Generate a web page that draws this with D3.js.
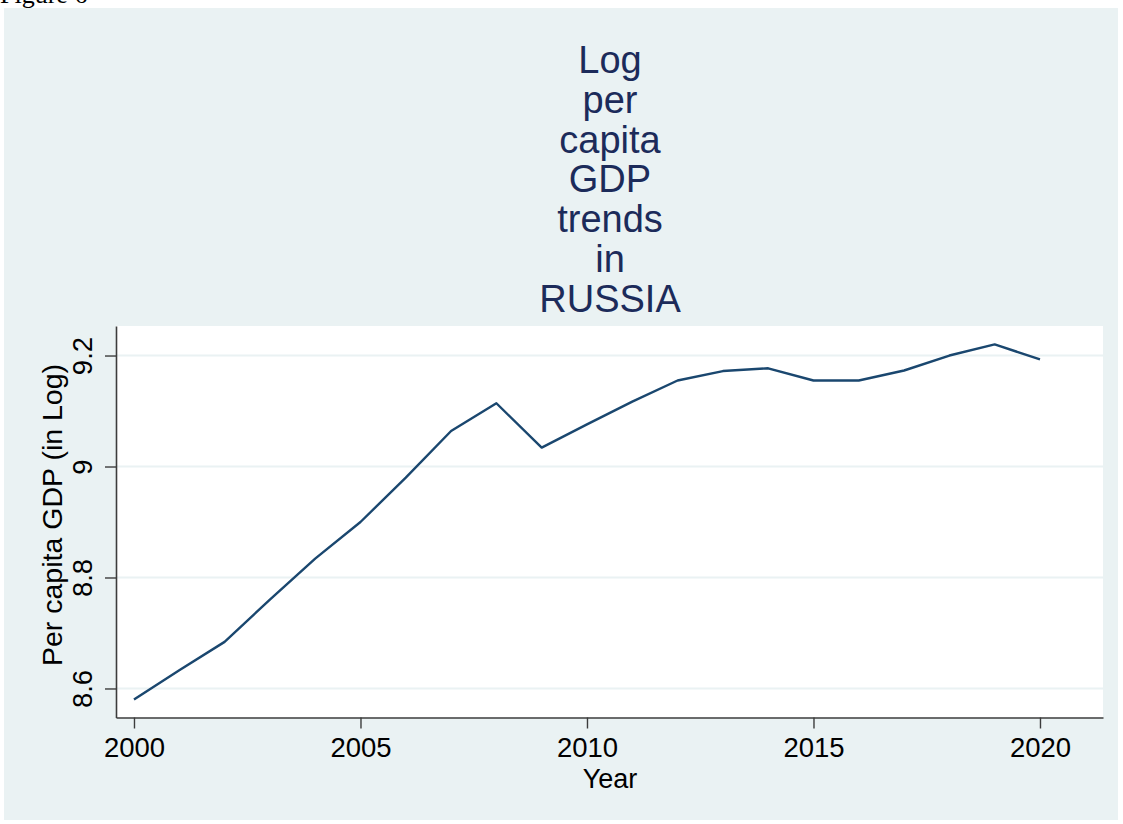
<!DOCTYPE html>
<html lang="en">
<head>
    <meta charset="UTF-8">
    <title>Log per capita GDP trends in RUSSIA</title>
    <style>
        body{
            margin: 0;
            background: #ffffff;
            font-family: "Liberation Sans", Arial, Helvetica, sans-serif;
        }
        svg{ display: block; }
    </style>
    <script src="https://d3js.org/d3.v7.min.js"></script>
</head>
<body>
    <script>
        // values
        var years = [2000, 2001, 2002, 2003, 2004, 2005, 2006, 2007, 2008, 2009, 2010,
                     2011, 2012, 2013, 2014, 2015, 2016, 2017, 2018, 2019, 2020];
        var logGdp = [8.580, 8.633, 8.684, 8.760, 8.834, 8.900, 8.980, 9.064, 9.114, 9.034, 9.076,
                      9.117, 9.155, 9.172, 9.177, 9.155, 9.155, 9.173, 9.200, 9.220, 9.193];
        var xTicks = [2000, 2005, 2010, 2015, 2020];
        var yTicks = [8.6, 8.8, 9, 9.2];
        var titleLines = ["Log", "per", "capita", "GDP", "trends", "in", "RUSSIA"];

        var width = 1123,
            height = 824,
            plot = {left: 116, right: 1103, top: 326, bottom: 717.5};

        var svg = d3.select("body")
            .append("svg")
            .attr("width", width)
            .attr("height", height);

        // cropped caption from the document above the figure
        svg.append("text")
            .attr("x", 0)
            .attr("y", 3)
            .style("font-family", "'Liberation Serif', 'Times New Roman', serif")
            .style("font-size", "26px")
            .attr("fill", "#000")
            .text("Figure 6");

        // graph region
        svg.append("rect")
            .attr("x", 4).attr("y", 8)
            .attr("width", 1114).attr("height", 812)
            .attr("fill", "#eaf2f3");

        svg.append("rect")
            .attr("x", plot.left).attr("y", plot.top)
            .attr("width", plot.right - plot.left).attr("height", plot.bottom - plot.top)
            .attr("fill", "#ffffff");

        var x = d3.scaleLinear().domain([1999.603, 2021.391]).range([plot.left, plot.right]);
        var y = d3.scaleLinear().domain([8.5477, 9.2532]).range([plot.bottom, plot.top]);

        // gridlines
        svg.selectAll(".grid")
            .data(yTicks)
            .enter()
            .append("line")
            .attr("x1", plot.left).attr("x2", plot.right)
            .attr("y1", d => y(d)).attr("y2", d => y(d))
            .attr("stroke", "#eaf2f3")
            .attr("stroke-width", 2);

        // title
        svg.append("text")
            .attr("text-anchor", "middle")
            .attr("fill", "#1c2b5a")
            .style("font-size", "38px")
            .selectAll("tspan")
            .data(titleLines)
            .enter()
            .append("tspan")
            .attr("x", 610)
            .attr("y", (d, i) => 73.3 + i * 39.7)
            .text(d => d);

        // x axis
        var xAxis = svg.append("g")
            .attr("transform", "translate(0," + plot.bottom + ")")
            .call(d3.axisBottom(x).tickValues(xTicks).tickSize(11).tickSizeOuter(0).tickFormat(d3.format("d")));
        xAxis.select(".domain").attr("stroke", "#3c3c3c").attr("stroke-width", 1.6);
        xAxis.selectAll(".tick line").attr("stroke", "#3c3c3c").attr("stroke-width", 1.4);
        xAxis.selectAll(".tick text")
            .attr("y", 39.5)
            .attr("dy", 0)
            .attr("fill", "#000")
            .style("font-family", "'Liberation Sans', Arial, Helvetica, sans-serif")
            .style("font-size", "27.5px");

        // y axis
        var yAxis = svg.append("g")
            .attr("transform", "translate(" + plot.left + ",0)")
            .call(d3.axisLeft(y).tickValues(yTicks).tickSize(11).tickSizeOuter(0).tickFormat(d3.format("")));
        yAxis.select(".domain").attr("stroke", "#3c3c3c").attr("stroke-width", 1.6);
        yAxis.selectAll(".tick line").attr("stroke", "#3c3c3c").attr("stroke-width", 1.4);
        yAxis.selectAll(".tick text")
            .attr("transform", "rotate(-90)")
            .attr("x", 0)
            .attr("y", -24.3)
            .attr("dy", 0)
            .attr("text-anchor", "middle")
            .attr("fill", "#000")
            .style("font-family", "'Liberation Sans', Arial, Helvetica, sans-serif")
            .style("font-size", "27.5px");

        // axis titles
        svg.append("text")
            .attr("x", 610)
            .attr("y", 788)
            .attr("text-anchor", "middle")
            .attr("fill", "#000")
            .style("font-size", "27px")
            .text("Year");

        svg.append("text")
            .attr("transform", "translate(61.7,515) rotate(-90)")
            .attr("text-anchor", "middle")
            .attr("fill", "#000")
            .style("font-size", "28.5px")
            .text("Per capita GDP (in Log)");

        // series
        var line = d3.line()
            .x((d, i) => x(years[i]))
            .y(d => y(d));

        svg.append("path")
            .datum(logGdp)
            .attr("d", line)
            .attr("fill", "none")
            .attr("stroke", "#1a476f")
            .attr("stroke-width", 2.4)
            .attr("stroke-linejoin", "round");
    </script>
</body>
</html>
